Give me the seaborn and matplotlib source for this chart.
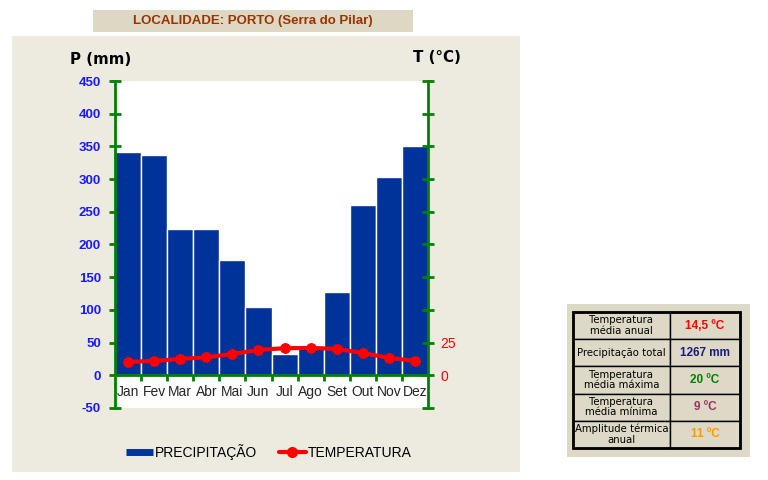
import numpy as np
import pandas as pd
import seaborn as sns
import matplotlib.pyplot as plt
from matplotlib.patches import Rectangle
from matplotlib.lines import Line2D

# dados do climograma (Porto - Serra do Pilar)
meses = ['Jan', 'Fev', 'Mar', 'Abr', 'Mai', 'Jun', 'Jul', 'Ago', 'Set', 'Out', 'Nov', 'Dez']
precipitacao = [341, 337, 224, 224, 177, 105, 32, 44, 128, 261, 303, 351]
temperatura = [10.2, 11.0, 12.5, 13.8, 16.3, 19.4, 20.7, 20.9, 20.2, 17.1, 13.3, 11.0]

p_ticks = list(range(-50, 451, 50))
t_ticks = list(range(-25, 226, 25))
t_labels_shown = [0, 25]

tabela_nomes = ['Temperatura\nmédia anual', 'Precipitação total', 'Temperatura\nmédia máxima',
                'Temperatura\nmédia mínima', 'Amplitude térmica\nanual']
tabela_valores = ['14,5 ºC', '1267 mm', '20 ºC', '9 ºC', '11 ºC']
tabela_cores = ['#FF0000', '#1A1A80', '#008000', '#993366', '#FF9900']

titulo = 'LOCALIDADE: PORTO (Serra do Pilar)'

sns.set_style('white')
plt.rcParams['font.family'] = ['Liberation Sans', 'DejaVu Sans']
plt.rcParams['text.color'] = 'black'

W, H = 768, 480
fig = plt.figure(figsize=(W / 100, H / 100), dpi=100)
fig.patch.set_facecolor('white')

def px(x0, y0, x1, y1):
    # caixa em pixeis -> fracção da figura
    return [x0 / W, 1 - y1 / H, (x1 - x0) / W, (y1 - y0) / H]

# fundos
for (x0, y0, x1, y1, cor) in [(12, 36, 520, 472, '#EDEAE0'), (93, 10, 413, 32, '#DDD8C4'),
                              (567, 304, 750, 457, '#DDD9C6')]:
    fig.patches.append(Rectangle((x0 / W, 1 - y1 / H), (x1 - x0) / W, (y1 - y0) / H,
                                 transform=fig.transFigure, facecolor=cor,
                                 edgecolor='none', zorder=-10))
fig.text(253 / W, 1 - 21 / H, titulo, ha='center', va='center', fontsize=9.5,
         fontweight='bold', color='#993300')

green = '#008000'
ax = fig.add_axes(px(115, 81, 428, 408))
ax.set_facecolor('white')
df = pd.DataFrame({'mes': meses, 'P': precipitacao, 'T': temperatura})
sns.barplot(data=df, x='mes', y='P', color='#003399', saturation=1, width=1,
            edgecolor='white', linewidth=1, ax=ax)
ax.set_xlim(-0.5, len(meses) - 0.5)
ax.set_ylim(-50, 450)
ax.set_yticks(p_ticks)
ax.set_yticklabels([str(v) for v in p_ticks], color='#1A1AFF', fontweight='bold', fontsize=9.5)
ax.tick_params(axis='y', direction='inout', length=8, width=2, color=green, pad=6, left=True)
ax.set_xticks(np.arange(0.5, len(meses) - 1, 1))
ax.set_xticklabels([])
ax.set_xticks(np.arange(len(meses)), minor=True)
ax.set_xticklabels(meses, minor=True, fontsize=7.2)
ax.tick_params(axis='x', which='major', direction='out', length=4, width=2, color=green, bottom=True)
ax.tick_params(axis='x', which='minor', length=0, pad=7)
ax.set_xlabel('')
ax.set_ylabel('')
ax.spines['bottom'].set_position(('data', 0))
for s in ['left', 'bottom']:
    ax.spines[s].set_color(green)
    ax.spines[s].set_linewidth(2)
ax.spines['top'].set_visible(False)
ax.spines['right'].set_visible(False)

ax2 = ax.twinx()
sns.lineplot(x=np.arange(len(meses)), y=temperatura, color='#FF0000', linewidth=3,
             marker='o', markersize=7, markeredgecolor='#FF0000', ax=ax2)
ax2.set_ylim(-25, 225)
ax2.set_yticks(t_ticks)
ax2.set_yticklabels([str(v) if v in t_labels_shown else '' for v in t_ticks],
                    color='#FF0000', fontsize=10)
ax2.tick_params(axis='y', direction='inout', length=8, width=2, color=green, pad=5, right=True)
for s in ['top', 'left', 'bottom']:
    ax2.spines[s].set_visible(False)
ax2.spines['right'].set_color(green)
ax2.spines['right'].set_linewidth(2)
ax2.set_ylabel('')

fig.text(101 / W, 1 - 60 / H, 'P (mm)', ha='center', va='center', fontsize=10.8,
         fontweight='bold', family=['DejaVu Sans'])
fig.text(437 / W, 1 - 57 / H, 'T (°C)', ha='center', va='center', fontsize=10.8,
         fontweight='bold', family=['DejaVu Sans'])

handles = [Line2D([], [], color='#003399', linewidth=5, solid_capstyle='butt'),
           Line2D([], [], color='#FF0000', linewidth=3, marker='o', markersize=7)]
fig.legend(handles, ['PRECIPITAÇÃO', 'TEMPERATURA'], loc='center', ncol=2,
           bbox_to_anchor=(269 / W, 1 - 452 / H), frameon=False, fontsize=10,
           handlelength=1.9, handletextpad=0.15, columnspacing=1.6, labelcolor='black')

# tabela resumo
tax = fig.add_axes(px(573, 312, 740, 448))
tax.axis('off')
cell_text = [[n, v] for n, v in zip(tabela_nomes, tabela_valores)]
tab = tax.table(cellText=cell_text, colWidths=[0.58, 0.42], bbox=[0, 0, 1, 1],
                cellLoc='center')
tab.auto_set_font_size(False)
for (r, c), cell in tab.get_celld().items():
    cell.set_facecolor('#DDD9C6')
    cell.set_edgecolor('black')
    cell.set_linewidth(1)
    t = cell.get_text()
    if c == 0:
        t.set_fontsize(7.3)
        t.set_family(['DejaVu Sans'])
        t.set_linespacing(1.05)
    else:
        t.set_fontsize(8.5)
        t.set_fontweight('bold')
        t.set_color(tabela_cores[r])
tax.add_patch(Rectangle((0, 0), 1, 1, transform=tax.transAxes, fill=False,
                        edgecolor='black', linewidth=2, clip_on=False))

fig.savefig('out.png', dpi=100)
